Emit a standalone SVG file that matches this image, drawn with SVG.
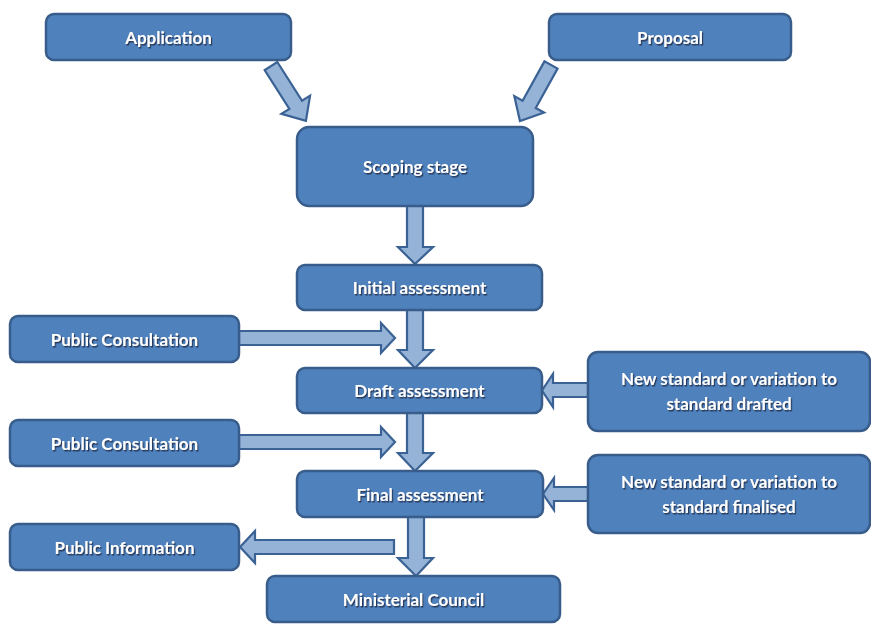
<svg xmlns="http://www.w3.org/2000/svg" width="871" height="626" viewBox="0 0 871 626">
  <style>
    .box { fill: #4f81bd; stroke: #385d8a; stroke-width: 2.5; }
    .arrow { fill: #95b3d7; stroke: #3b6294; stroke-width: 2.2; stroke-linejoin: miter; }
    .label { font-family: Lato, "Open Sans", "Liberation Sans", sans-serif; font-weight: bold; font-size: 17px; fill: #ffffff; text-anchor: middle; dominant-baseline: central; filter: url(#textShadow); }
  </style>
  <defs>
    <filter id="textShadow" x="-10%" y="-30%" width="120%" height="160%">
      <feDropShadow dx="1.2" dy="1.5" stdDeviation="0.7" flood-color="#1c2c44" flood-opacity="0.85"/>
    </filter>
  </defs>
  <rect width="871" height="626" fill="#ffffff"/>

  <!-- block arrows between the stages -->
  <g id="connectors">
    <!-- Application -> Scoping stage -->
    <polygon class="arrow" transform="translate(271,66) rotate(57.5)" points="0,-7.5 46,-7.5 46,-17 65,0 46,17 46,7.5 0,7.5"/>
    <!-- Proposal -> Scoping stage -->
    <polygon class="arrow" transform="translate(551,65) rotate(119)" points="0,-7.5 45,-7.5 45,-17 64,0 45,17 45,7.5 0,7.5"/>
    <!-- Scoping stage -> Initial assessment -->
    <polygon class="arrow" points="407,206 423,206 423,247 433,247 415,264 398,247 407,247"/>
    <!-- Initial assessment -> Draft assessment -->
    <polygon class="arrow" points="407,310 423,310 423,350 433,350 415,368 398,350 407,350"/>
    <!-- Draft assessment -> Final assessment -->
    <polygon class="arrow" points="407,413 423,413 423,453 433,453 415,471 398,453 407,453"/>
    <!-- Final assessment -> Ministerial Council -->
    <polygon class="arrow" points="408,517 424,517 424,558 433,558 416,576 398,558 408,558"/>
    <!-- Public Consultation -> pipeline -->
    <polygon class="arrow" points="239,331 381,331 381,323 395,338 381,353 381,345 239,345"/>
    <polygon class="arrow" points="239,435 381,435 381,427 395,442 381,457 381,449 239,449"/>
    <!-- New standard -> assessments -->
    <polygon class="arrow" points="588,383 553,383 553,374 542,390.5 553,407 553,397 588,397"/>
    <polygon class="arrow" points="588,487 554,487 554,478 543,494 554,510 554,501 588,501"/>
    <!-- pipeline -> Public Information -->
    <polygon class="arrow" points="394,540 255,540 255,531 240,547 255,563 255,554 394,554"/>
  </g>

  <g id="application">
    <rect class="box" x="46" y="14" width="245" height="46" rx="8"/>
    <text class="label" x="168.5" y="37">Application</text>
  </g>
  <g id="proposal">
    <rect class="box" x="549" y="14" width="242" height="46" rx="8"/>
    <text class="label" x="670" y="37">Proposal</text>
  </g>
  <g id="scoping">
    <rect class="box" x="297" y="127" width="236" height="79" rx="12"/>
    <text class="label" x="415" y="166.5">Scoping stage</text>
  </g>
  <g id="initial">
    <rect class="box" x="297" y="265" width="245" height="45" rx="8"/>
    <text class="label" x="419.5" y="287.5">Initial assessment</text>
  </g>
  <g id="consultation1">
    <rect class="box" x="10" y="316" width="229" height="46" rx="8"/>
    <text class="label" x="124.5" y="339">Public Consultation</text>
  </g>
  <g id="draft">
    <rect class="box" x="297" y="368" width="245" height="45" rx="8"/>
    <text class="label" x="419.5" y="390.5">Draft assessment</text>
  </g>
  <g id="standard-drafted">
    <rect class="box" x="588" y="352" width="282" height="79" rx="10"/>
    <text class="label" x="729" y="378">New standard or variation to</text>
    <text class="label" x="729" y="403">standard drafted</text>
  </g>
  <g id="consultation2">
    <rect class="box" x="10" y="420" width="229" height="46" rx="8"/>
    <text class="label" x="124.5" y="443">Public Consultation</text>
  </g>
  <g id="final">
    <rect class="box" x="297" y="471" width="246" height="46" rx="8"/>
    <text class="label" x="420" y="494">Final assessment</text>
  </g>
  <g id="standard-finalised">
    <rect class="box" x="588" y="455" width="282" height="78" rx="10"/>
    <text class="label" x="729" y="481">New standard or variation to</text>
    <text class="label" x="729" y="506">standard finalised</text>
  </g>
  <g id="public-information">
    <rect class="box" x="10" y="524" width="229" height="46" rx="8"/>
    <text class="label" x="124.5" y="547">Public Information</text>
  </g>
  <g id="ministerial">
    <rect class="box" x="267" y="576" width="293" height="46" rx="8"/>
    <text class="label" x="413.5" y="599">Ministerial Council</text>
  </g>
</svg>
